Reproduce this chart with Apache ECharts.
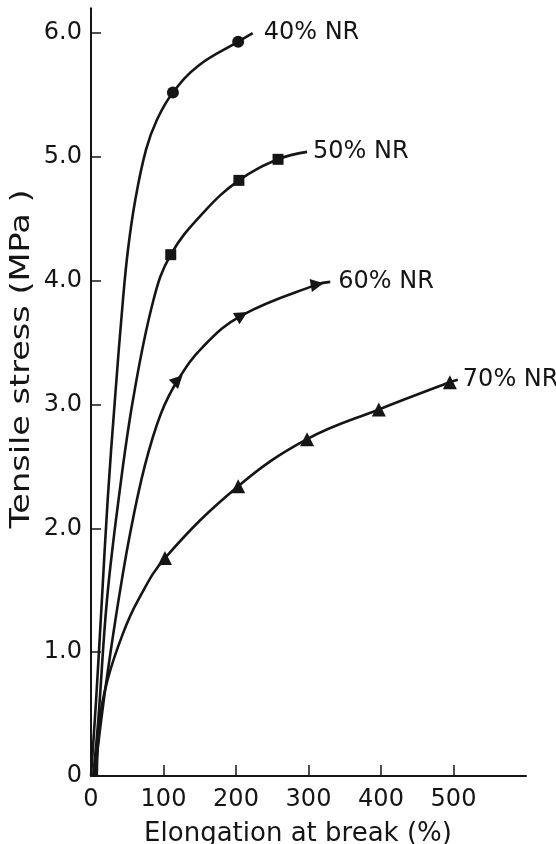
<!DOCTYPE html>
<html>
<head>
<meta charset="utf-8">
<script src="https://cdn.jsdelivr.net/npm/echarts@6/dist/echarts.min.js"></script>
<style>
html,body{margin:0;padding:0;background:#fff;}
#chart{width:556px;height:844px;}
</style>
</head>
<body>
<div id="chart"></div>
<script>
// Axis ticks
const xTickValues = [0, 100, 200, 300, 400, 500];
const yTickValues = [0, 1, 2, 3, 4, 5, 6];

// Curve names
const seriesNames = ['40% NR', '50% NR', '60% NR', '70% NR'];

// 40% NR curve (elongation %, stress MPa)
const nr40X = [0, 7, 15, 23, 33, 44, 51, 61, 76, 91, 113, 149, 203, 223];
const nr40Y = [0, 0.61, 1.42, 2.23, 3.04, 3.84, 4.25, 4.65, 5.06, 5.30, 5.52, 5.74, 5.93, 6.0];
const nr40Marks = [10, 12];

// 50% NR curve
const nr50X = [3, 10, 22, 38, 58, 86, 110, 155, 204, 258, 298];
const nr50Y = [0, 0.45, 1.42, 2.23, 3.04, 3.84, 4.21, 4.55, 4.81, 4.98, 5.04];
const nr50Marks = [6, 8, 9];

// 60% NR curve
const nr60X = [5, 14, 24, 38, 54, 74, 96, 120, 155, 208, 312, 330];
const nr60Y = [0, 0.45, 0.88, 1.42, 1.96, 2.5, 2.92, 3.2, 3.47, 3.72, 3.97, 3.99];
const nr60Marks = [7, 9, 10];
const nr60Rotate = [-45, -60, -80];

// 70% NR curve
const nr70X = [8, 12, 23, 44, 65, 102, 203, 298, 397, 495, 506];
const nr70Y = [0, 0.45, 0.78, 1.15, 1.42, 1.76, 2.34, 2.72, 2.96, 3.18, 3.2];
const nr70Marks = [5, 6, 7, 8, 9];

const FONT = 'DejaVu Sans';
const INK = '#151515';

const groups = [
  {name: seriesNames[0], x: nr40X, y: nr40Y, marks: nr40Marks, symbol: 'circle', size: 12, dist: 11},
  {name: seriesNames[1], x: nr50X, y: nr50Y, marks: nr50Marks, symbol: 'rect', size: 11, dist: 6},
  {name: seriesNames[2], x: nr60X, y: nr60Y, marks: nr60Marks, symbol: 'triangle', size: 13, dist: 8, rot: nr60Rotate},
  {name: seriesNames[3], x: nr70X, y: nr70Y, marks: nr70Marks, symbol: 'triangle', size: 14, dist: 5}
];

const series = groups.map(g => ({
  type: 'line',
  name: g.name,
  smooth: 0.4,
  smoothMonotone: null,
  showSymbol: true,
  data: g.x.map((x, i) => {
    const k = g.marks.indexOf(i);
    return {
      value: [x, g.y[i]],
      symbol: k >= 0 ? g.symbol : 'none',
      symbolSize: g.size,
      symbolRotate: (k >= 0 && g.rot) ? g.rot[k] : 0
    };
  }),
  lineStyle: {color: INK, width: 2.6},
  itemStyle: {color: INK},
  endLabel: {
    show: true,
    formatter: g.name,
    distance: g.dist,
    color: INK,
    fontFamily: FONT,
    fontSize: 24
  },
  emphasis: {disabled: true},
  z: 3
}));

const chart = echarts.init(document.getElementById('chart'));
chart.setOption({
  animation: false,
  backgroundColor: '#fff',
  grid: {left: 91, right: 30, top: 8.25, bottom: 68, containLabel: false},
  xAxis: {
    type: 'value',
    min: 0, max: 600, interval: 100,
    axisLine: {show: true, onZero: false, lineStyle: {color: INK, width: 2}},
    axisTick: {show: true, inside: true, length: 11, customValues: xTickValues.filter(v => v > 0), lineStyle: {color: INK, width: 1.5}},
    axisLabel: {show: true, customValues: xTickValues, margin: 12, color: INK, fontFamily: FONT, fontSize: 24,
      formatter: v => xTickValues.indexOf(v) >= 0 ? String(v) : ''},
    splitLine: {show: false}
  },
  yAxis: {
    type: 'value',
    min: 0, max: 6.2, interval: 1,
    axisLine: {show: true, onZero: false, lineStyle: {color: INK, width: 2}},
    axisTick: {show: true, inside: true, length: 10, customValues: yTickValues.filter(v => v > 0), lineStyle: {color: INK, width: 1.5}},
    axisLabel: {show: true, customValues: yTickValues, margin: 9, color: INK, fontFamily: FONT, fontSize: 24,
      formatter: v => v === 0 ? '0' : (yTickValues.indexOf(v) >= 0 ? v.toFixed(1) : '')},
    splitLine: {show: false}
  },
  graphic: [
    {
      type: 'text', x: 22, y: 359, rotation: Math.PI / 2, scaleX: 1.29,
      style: {text: 'Tensile stress (MPa )', fill: INK, font: '26px "DejaVu Sans"', align: 'center', verticalAlign: 'middle'}
    },
    {
      type: 'text', x: 298, y: 834,
      style: {text: 'Elongation at break (%)', fill: INK, font: '26px "DejaVu Sans"', align: 'center', verticalAlign: 'middle'}
    }
  ],
  series: series
});
</script>
</body>
</html>
